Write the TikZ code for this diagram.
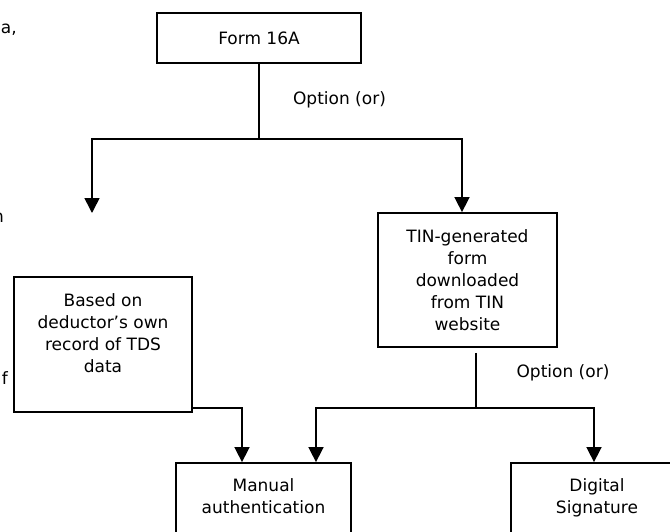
\documentclass[tikz,border=0pt]{standalone}
\usepackage{fontspec}
\setmainfont{DejaVu Sans}
\usetikzlibrary{arrows.meta,calc}
\begin{document}
\begin{tikzpicture}[x=1pt,y=-1pt,
  every node/.style={font=\fontsize{17}{22}\selectfont},
  box/.style={draw, line width=1.8pt, align=center, inner sep=0pt},
  conn/.style={line width=1.6pt},
  arr/.style={conn, -{Triangle[width=15pt,length=15pt]}},
  lbl/.style={inner sep=0pt}]
\clip (0,0) rectangle (670,531);
\useasboundingbox (0,0) rectangle (670,531);
% boxes
\node[box, minimum width=204pt, minimum height=50pt] (form) at (259,38) {Form 16A};
\node[box, minimum width=179pt, minimum height=134pt] (tin) at (467.5,280) {TIN-generated\\form\\downloaded\\from TIN\\website};
\node[box, minimum width=178pt, minimum height=135pt] (based) at (103,344.5) {Based on\\deductor’s own\\record of TDS\\data\\\mbox{}};
\node[box, minimum width=175pt, minimum height=71pt] (manual) at (263.5,498.5) {\strut Manual\\\strut authentication};
\node[box, minimum width=172pt, minimum height=71pt] (digital) at (597,498.5) {\strut Digital\\\strut Signature};
% labels
\node[lbl] (opt1) at (339.5,100) {Option (or)};
\node[lbl] (opt2) at (563,373) {Option (or)};
% cut-off text at the left edge
\node[lbl, anchor=base east] (fa) at (17,33) {a,};
\node[lbl, anchor=base east] (fn) at (4,222) {n};
\node[lbl, anchor=base east] (ff) at (8,384) {f};
% coordinates
\coordinate (j1) at (259,139);
\coordinate (lend) at (92,213);
\coordinate (tx) at (462,0);
\coordinate (j2) at (476,408);
\coordinate (m1) at (242,0);
\coordinate (m2) at (316,0);
\coordinate (d1) at (594,0);
% connectors
\draw[conn] (form.south) -- (j1);
\draw[arr] (j1) -| (lend);
\draw[arr] (j1) -| (tx |- tin.north);
\draw[conn, shorten <=5pt] (tin.south -| j2) -- (j2);
\draw[arr] (j2) -| (m2 |- manual.north);
\draw[arr] (j2) -| (d1 |- digital.north);
\draw[arr] (based.east |- j2) -| (m1 |- manual.north);
\end{tikzpicture}
\end{document}
